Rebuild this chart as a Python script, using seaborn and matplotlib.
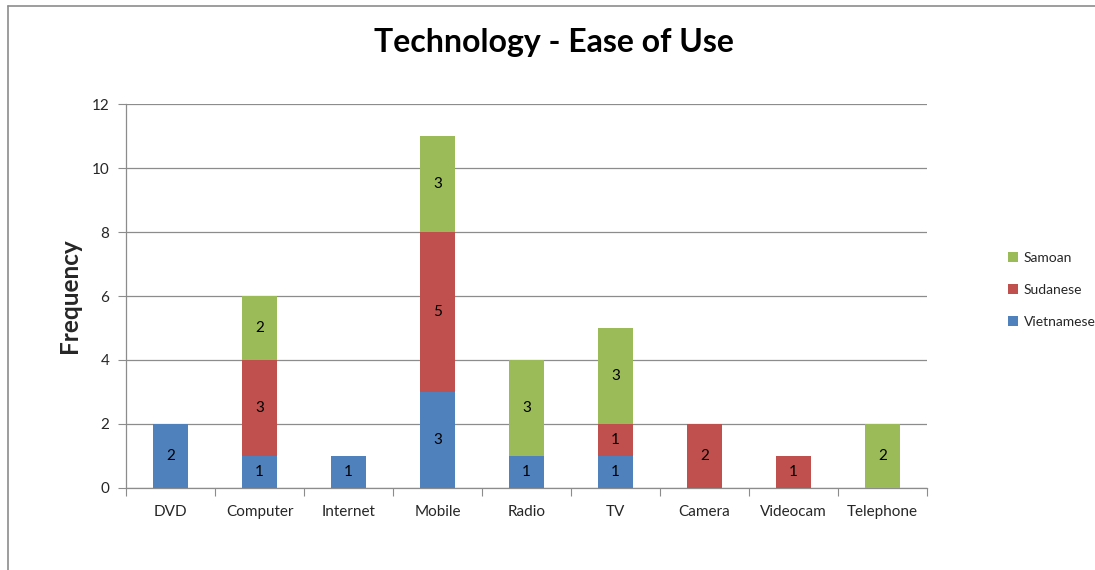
import numpy as np
import pandas as pd
import seaborn as sns
import matplotlib.pyplot as plt
from matplotlib.lines import Line2D

categories = ['DVD', 'Computer', 'Internet', 'Mobile', 'Radio', 'TV', 'Camera', 'Videocam', 'Telephone']
vietnamese = [2, 1, 1, 3, 1, 1, 0, 0, 0]
sudanese = [0, 3, 0, 5, 0, 1, 2, 1, 0]
samoan = [0, 2, 0, 3, 3, 3, 0, 0, 2]

series_names = ['Vietnamese', 'Sudanese', 'Samoan']
series_colors = {'Vietnamese': '#4F81BD', 'Sudanese': '#C0504D', 'Samoan': '#9BBB59'}

sns.set_style('white')
plt.rcParams['font.family'] = ['Lato', 'DejaVu Sans']

df = pd.DataFrame({'Category': categories, 'Vietnamese': vietnamese,
                   'Sudanese': sudanese, 'Samoan': samoan})
df['cum_V'] = df['Vietnamese']
df['cum_S'] = df['cum_V'] + df['Sudanese']
df['cum_Sam'] = df['cum_S'] + df['Samoan']

fig = plt.figure(figsize=(10.95, 5.7), dpi=100)
ax = fig.add_axes([0.1151, 0.1439, 0.7315, 0.6736])

# stacked look: draw cumulative totals from top layer down
layers = [('Samoan', 'cum_Sam'), ('Sudanese', 'cum_S'), ('Vietnamese', 'cum_V')]
for name, col in layers:
    sns.barplot(data=df, x='Category', y=col, color=series_colors[name],
                saturation=1, width=0.4, ax=ax, zorder=3, label=name,
                edgecolor='none', linewidth=0)

# segment labels
for i, cat in enumerate(categories):
    base = 0
    for name in series_names:
        v = df.loc[i, name]
        if v > 0:
            ax.text(i, base + v / 2, str(v), ha='center', va='center',
                    fontsize=11, color='black', zorder=4)
        base += v

ax.set_ylim(0, 12)
ax.set_xlim(-0.5, len(categories) - 0.5)
ax.set_yticks(range(0, 13, 2))
ax.yaxis.grid(True, color='#8c8c8c', linewidth=0.9, zorder=0)
ax.set_axisbelow(True)

for s in ['top', 'right']:
    ax.spines[s].set_visible(False)
for s in ['left', 'bottom']:
    ax.spines[s].set_color('#8c8c8c')
    ax.spines[s].set_linewidth(0.9)

# x ticks at category boundaries, labels centered
ax.set_xticks(np.arange(-0.5, len(categories), 1.0))
ax.set_xticklabels([])
ax.set_xticks(range(len(categories)), minor=True)
ax.set_xticklabels(categories, minor=True)
ax.tick_params(axis='x', which='major', length=6, color='#8c8c8c', direction='out', bottom=True)
ax.tick_params(axis='x', which='minor', length=0, pad=12, labelsize=11)
ax.tick_params(axis='y', length=6, color='#8c8c8c', direction='out', left=True, labelsize=11, pad=6)

ax.set_xlabel('')
ax.set_ylabel('Frequency', fontsize=17.5, fontweight='bold', labelpad=8)

fig.text(0.506, 0.925, 'Technology - Ease of Use', ha='center', va='center',
         fontsize=23, fontweight='bold', color='black')

handles, labels = ax.get_legend_handles_labels()
order = ['Samoan', 'Sudanese', 'Vietnamese']
hmap = dict(zip(labels, handles))
ax.legend([hmap[o] for o in order], order, loc='center left',
          bbox_to_anchor=(1008 / 1095, 1 - 290 / 570), bbox_transform=fig.transFigure,
          frameon=False, fontsize=10, borderpad=0, borderaxespad=0,
          handlelength=0.7, handleheight=0.7, handletextpad=0.45, labelspacing=1.45)

# outer chart border (only top and left visible)
fig.add_artist(Line2D([8 / 1095, 1], [1 - 6 / 570, 1 - 6 / 570], color='#8c8c8c', linewidth=1.2))
fig.add_artist(Line2D([8 / 1095, 8 / 1095], [0, 1 - 6 / 570], color='#8c8c8c', linewidth=1.2))

fig.savefig('out.png', dpi=100)
